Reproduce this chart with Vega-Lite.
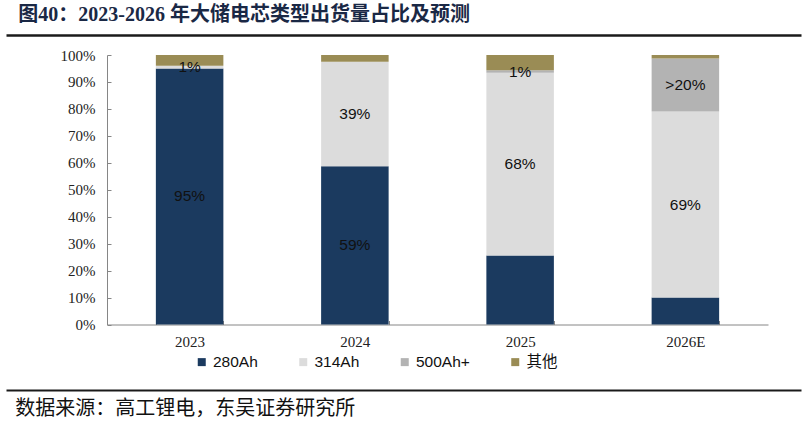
{
  "$schema": "https://vega.github.io/schema/vega-lite/v6.json",
  "padding": {"left": 3, "top": 5, "right": 2, "bottom": 4},
  "background": "white",
  "config": {"view": {"stroke": null}, "font": "Liberation Sans"},
  "spacing": 13,
  "vconcat": [
    {
      "width": 795,
      "height": 0,
      "title": {
        "text": "图40：2023-2026 年大储电芯类型出货量占比及预测",
        "anchor": "start",
        "orient": "top",
        "font": "Liberation Serif, Noto Sans CJK SC",
        "fontSize": 20,
        "fontWeight": "bold",
        "color": "#1a2845",
        "offset": -10,
        "dx": 15
      },
      "data": {"values": [{"v": 0}]},
      "mark": {"type": "point", "opacity": 0},
      "encoding": {
        "x": {
          "field": "v",
          "type": "quantitative",
          "scale": {"domain": [0, 1]},
          "axis": {"orient": "bottom", "domainColor": "#1a1a1a", "domainWidth": 2.5, "ticks": false, "labels": false, "grid": false, "title": null}
        }
      }
    },
    {
      "spacing": 0,
      "hconcat": [
        {
          "width": 54,
          "height": 269.5,
          "data": {"values": [{"v": 0}]},
          "mark": {"type": "point", "opacity": 0},
          "encoding": {}
        },
        {
          "width": 661,
          "height": 269.5,
          "data": {
            "values": [
              {"year": "2023", "type": "280Ah", "value": 95, "label": "95%"},
              {"year": "2023", "type": "314Ah", "value": 1, "label": "1%"},
              {"year": "2023", "type": "其他", "value": 4, "label": ""},
              {"year": "2024", "type": "280Ah", "value": 58.7, "label": "59%"},
              {"year": "2024", "type": "314Ah", "value": 38.8, "label": "39%"},
              {"year": "2024", "type": "其他", "value": 2.5, "label": ""},
              {"year": "2025", "type": "280Ah", "value": 25.6, "label": ""},
              {"year": "2025", "type": "314Ah", "value": 67.8, "label": "68%"},
              {"year": "2025", "type": "500Ah+", "value": 0.9, "label": "1%"},
              {"year": "2025", "type": "其他", "value": 5.7, "label": ""},
              {"year": "2026E", "type": "280Ah", "value": 10, "label": ""},
              {"year": "2026E", "type": "314Ah", "value": 69, "label": "69%"},
              {"year": "2026E", "type": "500Ah+", "value": 19.7, "label": ">20%"},
              {"year": "2026E", "type": "其他", "value": 1.3, "label": ""}
            ]
          },
          "encoding": {
            "x": {
              "field": "year",
              "type": "nominal",
              "scale": {"paddingInner": 0.5915, "paddingOuter": 0.2957},
              "axis": {
                "title": null,
                "labelAngle": 0,
                "labelFont": "Liberation Serif",
                "labelFontSize": 15,
                "labelColor": "#222",
                "labelPadding": 14,
                "domainColor": "#868686",
                "tickColor": "#868686",
                "tickBand": "extent",
                "tickSize": -4
              }
            },
            "order": {"field": "type", "sort": "ascending"}
          },
          "layer": [
            {
              "mark": {"type": "bar"},
              "encoding": {
                "y": {
                  "field": "value",
                  "type": "quantitative",
                  "stack": "zero",
                  "scale": {"domain": [0, 100]},
                  "axis": {
                    "title": null,
                    "values": [0, 10, 20, 30, 40, 50, 60, 70, 80, 90, 100],
                    "labelExpr": "datum.value + '%'",
                    "labelOverlap": false,
                    "grid": false,
                    "domainColor": "#868686",
                    "tickColor": "#868686",
                    "tickSize": -4,
                    "labelPadding": 16,
                    "labelFont": "Liberation Serif",
                    "labelFontSize": 15,
                    "labelColor": "#222"
                  }
                },
                "color": {
                  "field": "type",
                  "type": "nominal",
                  "scale": {
                    "domain": ["280Ah", "314Ah", "500Ah+", "其他"],
                    "range": ["#1b3a5f", "#dcdcdc", "#b3b3b3", "#9a8c55"]
                  },
                  "legend": {
                    "orient": "none",
                    "legendX": 188,
                    "legendY": 339,
                    "direction": "horizontal",
                    "title": null,
                    "padding": 0,
                    "symbolType": "square",
                    "symbolSize": 64,
                    "symbolStrokeWidth": 0,
                    "labelFont": "Liberation Sans, Noto Sans CJK SC",
                    "labelFontSize": 15.5,
                    "labelColor": "#111",
                    "columnPadding": 37.5,
                    "labelOffset": 3.5
                  }
                }
              }
            },
            {
              "mark": {"type": "text", "font": "Liberation Sans", "fontSize": 15.5, "color": "#111"},
              "encoding": {
                "y": {
                  "field": "value",
                  "type": "quantitative",
                  "stack": "zero",
                  "bandPosition": 0.5,
                  "scale": {"domain": [0, 100]},
                  "axis": {
                    "title": null,
                    "values": [0, 10, 20, 30, 40, 50, 60, 70, 80, 90, 100],
                    "labelExpr": "datum.value + '%'",
                    "labelOverlap": false,
                    "grid": false,
                    "domainColor": "#868686",
                    "tickColor": "#868686",
                    "tickSize": -4,
                    "labelPadding": 16,
                    "labelFont": "Liberation Serif",
                    "labelFontSize": 15,
                    "labelColor": "#222"
                  }
                },
                "detail": {"field": "type"},
                "text": {"field": "label"}
              }
            }
          ]
        }
      ]
    },
    {
      "width": 795,
      "height": 27,
      "title": {
        "text": "数据来源：高工锂电，东吴证券研究所",
        "orient": "bottom",
        "anchor": "start",
        "font": "Noto Sans CJK SC",
        "fontSize": 20,
        "fontWeight": "normal",
        "color": "#111",
        "offset": 9,
        "dx": 12
      },
      "data": {"values": [{"v": 0}]},
      "mark": {"type": "point", "opacity": 0},
      "encoding": {
        "x": {
          "field": "v",
          "type": "quantitative",
          "scale": {"domain": [0, 1]},
          "axis": {"domainColor": "#1a1a1a", "domainWidth": 2, "ticks": false, "labels": false, "grid": false, "title": null}
        }
      }
    }
  ]
}
